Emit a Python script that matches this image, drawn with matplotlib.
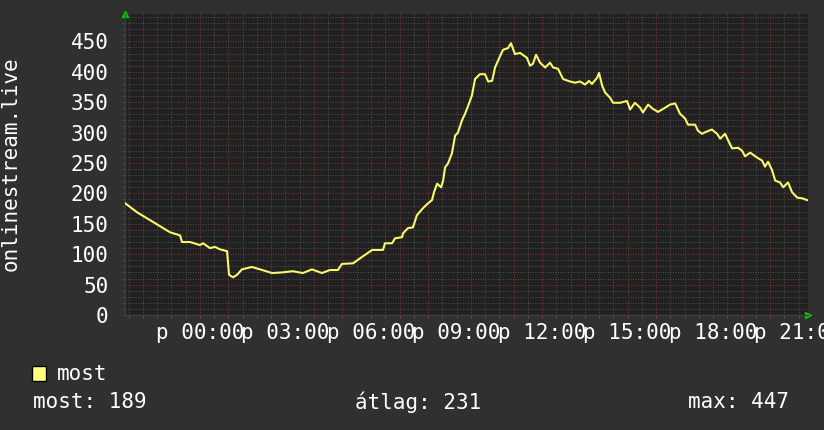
import matplotlib.pyplot as plt
from matplotlib.ticker import MultipleLocator, FuncFormatter
from matplotlib.patches import Rectangle

# data (hours relative to midnight, viewers)
hours = [-2.63, -2.21, -1.75, -1.47, -1.05, -0.70, -0.63, -0.35, 0.00, 0.11,
         0.35, 0.53, 0.70, 0.95, 1.02, 1.16, 1.30, 1.47, 1.82, 2.11,
         2.53, 2.88, 3.26, 3.61, 3.93, 4.28, 4.56, 4.84, 4.98, 5.37,
         5.61, 6.04, 6.42, 6.49, 6.74, 6.84, 7.09, 7.12, 7.30, 7.47,
         7.61, 7.79, 7.96, 8.14, 8.21, 8.32, 8.46, 8.53, 8.60, 8.70,
         8.84, 8.95, 9.05, 9.19, 9.30, 9.40, 9.54, 9.65, 9.82, 10.00,
         10.11, 10.25, 10.35, 10.53, 10.63, 10.81, 10.91, 11.05, 11.23, 11.47,
         11.58, 11.68, 11.79, 11.93, 12.11, 12.28, 12.39, 12.56, 12.74, 12.98,
         13.16, 13.33, 13.51, 13.65, 13.75, 13.93, 14.00, 14.11, 14.21, 14.39,
         14.49, 14.74, 14.98, 15.09, 15.26, 15.44, 15.54, 15.72, 15.89, 16.07,
         16.32, 16.49, 16.67, 16.84, 17.02, 17.12, 17.37, 17.47, 17.61, 17.79,
         17.96, 18.14, 18.25, 18.42, 18.53, 18.67, 18.88, 19.02, 19.12, 19.30,
         19.54, 19.72, 19.82, 19.93, 20.07, 20.18, 20.35, 20.46, 20.63, 20.77,
         20.95, 21.12, 21.30]
viewers = [184, 169, 156, 148, 136, 131, 120, 120, 115, 118,
           110, 112, 108, 105, 66, 62, 66, 75, 79, 75,
           69, 70, 72, 69, 75, 69, 74, 74, 84, 85,
           93, 107, 107, 118, 118, 126, 128, 134, 143, 144,
           164, 174, 182, 189, 202, 216, 210, 221, 243, 249,
           266, 295, 300, 320, 331, 343, 361, 388, 396, 396,
           384, 385, 407, 426, 436, 439, 447, 429, 431, 423,
           410, 413, 428, 415, 407, 415, 407, 405, 388, 384,
           382, 384, 379, 385, 380, 390, 398, 377, 366, 357,
           349, 349, 352, 338, 349, 341, 333, 346, 339, 334,
           341, 346, 348, 331, 323, 313, 313, 303, 298, 302,
           305, 298, 290, 298, 287, 274, 275, 270, 261, 267,
           259, 254, 244, 252, 238, 221, 218, 210, 218, 202,
           193, 192, 189]

label_hours = [0, 3, 6, 9, 12, 15, 18, 21]
tick_labels = ['p 00:00', 'p 03:00', 'p 06:00', 'p 09:00',
               'p 12:00', 'p 15:00', 'p 18:00', 'p 21:00']

series_name = 'most'
stat_names = ['most', 'átlag', 'max']
stat_values = [189, 231, 447]

BACK = '#303030'
CANVAS = '#212121'
MINOR = '#4c4c4c'
MAJOR = '#7a3434'
LINE = '#f8f86a'
FONT = 'DejaVu Sans Mono'

plt.rcParams['font.family'] = FONT

fig = plt.figure(figsize=(8.24, 4.30), dpi=100, facecolor=BACK)
ax = fig.add_axes([125 / 824, 1 - 315 / 430, (808 - 125) / 824, (315 - 14) / 430])
ax.set_facecolor(CANVAS)

ax.plot(hours, viewers, color=LINE, lw=1.5, zorder=3)

ax.set_xlim(-2.63, 21.33)
ax.set_ylim(0, 495)

ax.xaxis.set_major_locator(MultipleLocator(1))
ax.xaxis.set_minor_locator(MultipleLocator(0.5))
lab = dict(zip(label_hours, tick_labels))
ax.xaxis.set_major_formatter(FuncFormatter(lambda v, p: lab.get(int(round(v)), '') if abs(v - round(v)) < 1e-6 else ''))
ax.yaxis.set_major_locator(MultipleLocator(50))
ax.yaxis.set_minor_locator(MultipleLocator(10))

dots = (0, (1, 1.5))
ax.grid(which='minor', color=MINOR, lw=0.72, linestyle=dots)
ax.grid(which='major', color=MAJOR, lw=0.72, linestyle=dots)
ax.set_axisbelow(True)

ax.tick_params(which='major', direction='out', length=2, width=0.72, color=MAJOR,
               labelcolor='white', labelsize=15, pad=4)
ax.tick_params(which='minor', direction='out', length=2, width=0.72, color=MINOR)
ax.tick_params(axis='y', which='major', pad=10)

for s in ['top', 'right']:
    ax.spines[s].set_visible(False)
for s in ['left', 'bottom']:
    ax.spines[s].set_color('#3c3c3c')
    ax.spines[s].set_linewidth(1)

# green axis arrows
ax.plot([0], [1.0], marker='^', color='#00cc00', ms=4, transform=ax.transAxes, clip_on=False)
ax.plot([1.0], [0], marker='>', color='#00cc00', ms=4, transform=ax.transAxes, clip_on=False)

fig.text(11 / 824, 1 - 164 / 430, 'onlinestream.live', rotation=90, color='white',
         fontsize=15, ha='center', va='center')

# legend
fig.patches.append(Rectangle((32 / 824, 1 - 381 / 430), 14 / 824, 15 / 430,
                             transform=fig.transFigure, facecolor='#ffff80',
                             edgecolor='black', lw=1))
fig.text(57 / 824, 1 - 374 / 430, series_name, color='white', fontsize=15, va='center')
stat_x = [33, 355, 688]
for x, n, v in zip(stat_x, stat_names, stat_values):
    fig.text(x / 824, 1 - 402 / 430, f'{n}: {v}', color='white', fontsize=15, va='center')

fig.savefig('out.png', dpi=100, facecolor=BACK)
